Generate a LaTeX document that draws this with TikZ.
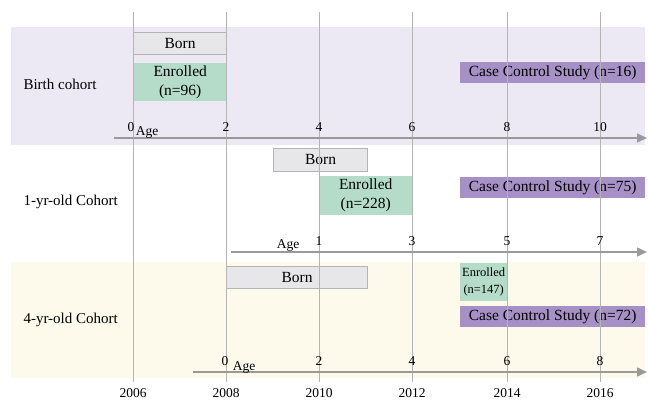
\documentclass[tikz,border=0pt]{standalone}
\usepackage{fontspec}
\setmainfont{Liberation Serif}
\usetikzlibrary{arrows.meta}
\definecolor{bandpurple}{HTML}{ECE8F4}
\definecolor{bandyellow}{HTML}{FDFAEC}
\definecolor{borngray}{HTML}{E7E7E9}
\definecolor{enrolgreen}{HTML}{B4DCC8}
\definecolor{casepurple}{HTML}{A690C6}
\definecolor{gridgray}{HTML}{B4B4B4}
\definecolor{axisgray}{HTML}{9A9A9A}
\tikzset{
    phase/.style={
        anchor=north west,
        inner sep=0pt,
        align=center,
        font=\fontsize{15.5}{19}\selectfont
    },
    bornbox/.style={phase, draw=gridgray, fill=borngray, line width=1pt},
    enrolbox/.style={phase, fill=enrolgreen},
    casebox/.style={phase, fill=casepurple},
    cohort/.style={anchor=west, font=\fontsize{15}{17}\selectfont},
    agetick/.style={font=\fontsize{13.5}{15}\selectfont},
    yearlabel/.style={font=\fontsize{13.5}{15}\selectfont},
    gridline/.style={draw=gridgray, line width=1pt},
    axis/.style={draw=axisgray, line width=1.4pt, -{Triangle[length=10pt,width=9pt]}}
}
\begin{document}
\begin{tikzpicture}[x=1pt,y=-1pt]
\useasboundingbox (0,0) rectangle (648,401);

% cohort bands
\fill[bandpurple] (11,27) rectangle (645,145);
\fill[bandyellow] (11,262) rectangle (645,378);

\node[cohort] (birth) at (20,84) {Birth cohort};
\node[cohort] (oneyr) at (20,202) {1-yr-old Cohort};
\node[cohort] (fouryr) at (20,320) {4-yr-old Cohort};

% birth cohort
\node[bornbox, minimum width=93pt, minimum height=22pt] (born0) at (133,32) {Born};
\node[enrolbox, minimum width=92pt, minimum height=38pt] (enrol0) at (134,63) {Enrolled\\(n=96)};
\node[casebox, minimum width=185pt, minimum height=21pt] (case0) at (460,62) {Case Control Study (n=16)};

% 1-yr-old cohort
\node[bornbox, minimum width=94pt, minimum height=23pt] (born1) at (273,148) {Born};
\node[enrolbox, minimum width=93pt, minimum height=39pt] (enrol1) at (319,176) {Enrolled\\(n=228)};
\node[casebox, minimum width=185pt, minimum height=21pt] (case1) at (460,177) {Case Control Study (n=75)};

% 4-yr-old cohort
\node[bornbox, minimum width=141pt, minimum height=22pt] (born2) at (226,266) {Born};
\node[enrolbox, minimum width=47pt, minimum height=38pt, font=\fontsize{12.5}{17}\selectfont] (enrol2) at (460,263) {Enrolled\\(n=147)};
\node[casebox, minimum width=185pt, minimum height=21pt] (case2) at (460,306) {Case Control Study (n=72)};

% calendar years
\foreach \yr/\x in {2006/133,2008/226,2010/319,2012/412,2014/507,2016/600}{
    \coordinate (top\yr) at (\x,12);
    \coordinate (bot\yr) at (\x,382);
    \draw[gridline] (top\yr) -- (bot\yr);
    \node[yearlabel] (year\yr) at (\x,393) {\yr};
}

% age axes
\coordinate (axis0s) at (114,138);
\coordinate (axis0e) at (647,138);
\draw[axis] (axis0s) -- (axis0e);
\foreach \a/\x in {0/131,2/226,4/319,6/412,8/507,10/600}
    \node[agetick] (age0-\a) at (\x,127) {\a};
\node[agetick] (agelab0) at (147,133) {Age};

\coordinate (axis1s) at (231,252);
\coordinate (axis1e) at (647,252);
\draw[axis] (axis1s) -- (axis1e);
\foreach \a/\x in {1/319,3/412,5/507,7/600}
    \node[agetick] (age1-\a) at (\x,241) {\a};
\node[agetick] (agelab1) at (288,246) {Age};

\coordinate (axis2s) at (193,372);
\coordinate (axis2e) at (647,372);
\draw[axis] (axis2s) -- (axis2e);
\foreach \a/\x in {0/225,2/319,4/412,6/507,8/600}
    \node[agetick] (age2-\a) at (\x,361) {\a};
\node[agetick] (agelab2) at (244,367) {Age};
\end{tikzpicture}
\end{document}
